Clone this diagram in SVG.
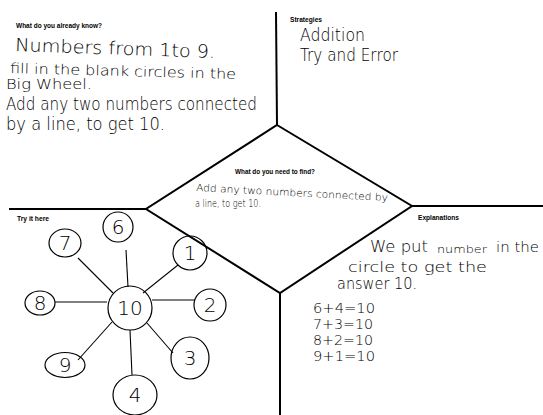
<svg xmlns="http://www.w3.org/2000/svg" width="543" height="415" viewBox="0 0 543 415">
<style>
.frame{fill:none;stroke:#000;stroke-width:2;stroke-linejoin:miter}
.lbl{font-family:"Liberation Sans Narrow","Liberation Sans",Arial,sans-serif;font-weight:bold;font-size:8px;fill:#000}
.hw{font-family:"DejaVu Sans","Lato",sans-serif;font-weight:200;fill:#000}
.ring{fill:none;stroke:#000;stroke-width:1.2}
.spoke{stroke:#000;stroke-width:1.1}
.num{font-family:"DejaVu Sans",sans-serif;font-weight:200;font-size:20px;fill:#000;text-anchor:middle}
.eq{font-size:13.5px}
</style>
<rect width="543" height="415" fill="#fff"/>
<g id="connectors">
<line class="frame" x1="276" y1="12" x2="277" y2="125"/>
<line class="frame" x1="9" y1="209" x2="146" y2="209"/>
<line class="frame" x1="412" y1="206" x2="543" y2="206"/>
<line class="frame" x1="280" y1="293" x2="280" y2="415"/>
</g>
<g id="diamond">
<polygon class="frame" points="277,125 412,206 280,293 146,209"/>
<text class="lbl" x="235" y="174" textLength="80" lengthAdjust="spacingAndGlyphs">What do you need to find?</text>
<text class="hw" font-size="10" x="196" y="191" textLength="192" lengthAdjust="spacingAndGlyphs" transform="rotate(3 196 191)">Add any two numbers connected by</text>
<text class="hw" font-size="10" x="195" y="207" textLength="66" lengthAdjust="spacingAndGlyphs">a line, to get 10.</text>
</g>
<g id="know">
<text class="lbl" x="16" y="28" textLength="86" lengthAdjust="spacingAndGlyphs">What do you already know?</text>
<text class="hw" font-size="18" x="15" y="51" textLength="200" lengthAdjust="spacingAndGlyphs" transform="rotate(2 15 51)">Numbers from 1to 9.</text>
<text class="hw" font-size="14" x="10" y="73" textLength="226" lengthAdjust="spacingAndGlyphs" transform="rotate(1.5 10 73)">fill in the blank circles in the</text>
<text class="hw" font-size="14" x="6" y="89" textLength="86" lengthAdjust="spacingAndGlyphs">Big Wheel.</text>
<text class="hw" font-size="17" x="6" y="110" textLength="251" lengthAdjust="spacingAndGlyphs">Add any two numbers connected</text>
<text class="hw" font-size="17" x="6" y="130" textLength="159" lengthAdjust="spacingAndGlyphs">by a line, to get 10.</text>
</g>
<g id="strategies">
<text class="lbl" x="290" y="22" textLength="32" lengthAdjust="spacingAndGlyphs">Strategies</text>
<text class="hw" font-size="18" x="300" y="41" textLength="65" lengthAdjust="spacingAndGlyphs">Addition</text>
<text class="hw" font-size="18" x="300" y="61" textLength="98" lengthAdjust="spacingAndGlyphs">Try and Error</text>
</g>
<g id="try">
<text class="lbl" x="17" y="221" textLength="32" lengthAdjust="spacingAndGlyphs">Try it here</text>
<g id="spokes">
<line class="spoke" x1="126" y1="250" x2="128" y2="287"/>
<line class="spoke" x1="78" y1="258" x2="113" y2="293"/>
<line class="spoke" x1="178" y1="265" x2="143" y2="293"/>
<line class="spoke" x1="55" y1="302" x2="107" y2="302"/>
<line class="spoke" x1="152" y1="300" x2="195" y2="300"/>
<line class="spoke" x1="78" y1="360" x2="112" y2="322"/>
<line class="spoke" x1="173" y1="353" x2="147" y2="323"/>
<line class="spoke" x1="132" y1="375" x2="130" y2="330"/>
</g>
<g id="c10"><circle class="ring" cx="130" cy="308" r="22"/><text class="num" x="130" y="315">10</text></g>
<g id="c6"><ellipse class="ring" cx="118" cy="227" rx="15" ry="15"/><text class="num" x="118" y="234">6</text></g>
<g id="c7"><ellipse class="ring" cx="65" cy="243" rx="16" ry="14"/><text class="num" x="65" y="250">7</text></g>
<g id="c1"><ellipse class="ring" cx="190" cy="253" rx="17" ry="17"/><text class="num" x="190" y="260">1</text></g>
<g id="c8"><ellipse class="ring" cx="40" cy="303" rx="15" ry="12"/><text class="num" x="40" y="310">8</text></g>
<g id="c2"><ellipse class="ring" cx="210" cy="305" rx="16" ry="16"/><text class="num" x="210" y="312">2</text></g>
<g id="c9"><ellipse class="ring" cx="65" cy="365" rx="20" ry="12.5"/><text class="num" x="65" y="372">9</text></g>
<g id="c3"><ellipse class="ring" cx="190" cy="358" rx="19" ry="21"/><text class="num" x="190" y="365">3</text></g>
<g id="c4"><ellipse class="ring" cx="135" cy="395" rx="22" ry="20"/><text class="num" x="135" y="402">4</text></g>
</g>
<g id="explanations">
<text class="lbl" x="418" y="220" textLength="41" lengthAdjust="spacingAndGlyphs">Explanations</text>
<text class="hw" font-size="15" x="370" y="252" textLength="58" lengthAdjust="spacingAndGlyphs">We put</text>
<text class="hw" font-size="10" x="437" y="253" textLength="50" lengthAdjust="spacingAndGlyphs">number</text>
<text class="hw" font-size="14" x="496" y="252" textLength="43" lengthAdjust="spacingAndGlyphs">in the</text>
<text class="hw" font-size="14" x="348" y="272" textLength="139" lengthAdjust="spacingAndGlyphs">circle to get the</text>
<text class="hw" font-size="15" x="337" y="289" textLength="80" lengthAdjust="spacingAndGlyphs">answer 10.</text>
<text class="hw eq" x="313" y="313" textLength="62" lengthAdjust="spacingAndGlyphs">6+4=10</text>
<text class="hw eq" x="313" y="329" textLength="60" lengthAdjust="spacingAndGlyphs">7+3=10</text>
<text class="hw eq" x="313" y="345" textLength="60" lengthAdjust="spacingAndGlyphs">8+2=10</text>
<text class="hw eq" x="313" y="361" textLength="62" lengthAdjust="spacingAndGlyphs">9+1=10</text>
</g>
</svg>
